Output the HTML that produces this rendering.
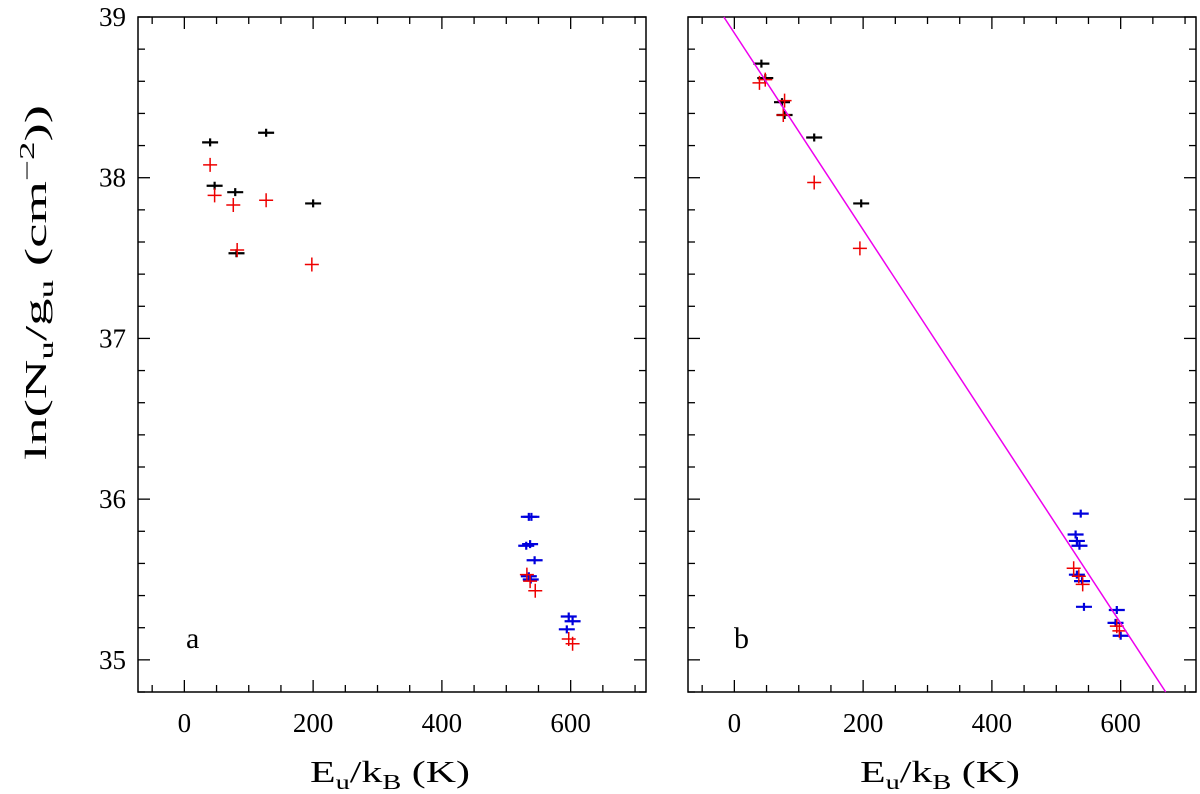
<!DOCTYPE html>
<html><head><meta charset="utf-8"><style>
body{margin:0;background:#fff;}
svg text{font-family:"Liberation Serif",serif;fill:#000;}
</style></head><body>
<svg id="chart" width="1200" height="789" viewBox="0 0 1200 789" xmlns="http://www.w3.org/2000/svg">
<g id="axes"></g><g id="marks"></g>
<text x="186" y="648" font-size="30">a</text>
<text x="734" y="648" font-size="30">b</text>
<text x="310" y="782" font-size="31" textLength="160" lengthAdjust="spacingAndGlyphs">E<tspan font-size="21" dy="7">u</tspan><tspan dy="-7">/k</tspan><tspan font-size="21" dy="7">B</tspan><tspan dy="-7"> (K)</tspan></text>
<text x="860" y="782" font-size="31" textLength="160" lengthAdjust="spacingAndGlyphs">E<tspan font-size="21" dy="7">u</tspan><tspan dy="-7">/k</tspan><tspan font-size="21" dy="7">B</tspan><tspan dy="-7"> (K)</tspan></text>
<text transform="translate(46,460) rotate(-90)" font-size="31" textLength="355" lengthAdjust="spacingAndGlyphs">ln(N<tspan font-size="21" dy="7">u</tspan><tspan dy="-7">/g</tspan><tspan font-size="21" dy="7">u</tspan><tspan dy="-7">  (cm</tspan><tspan font-size="21" dy="-12">−2</tspan><tspan dy="12">))</tspan></text>
</svg>
<script>
const xTicks=[0,200,400,600];
const yTicks=[35,36,37,38,39];
const aBlack=[[40,38.22],[47,37.95],[79,37.91],[81,37.53],[127,38.28],[200,37.84]];
const aRed=[[40,38.08],[47,37.89],[76,37.83],[82,37.55],[127,37.86],[198,37.46]];
const aBlue=[[535,35.89],[539,35.89],[531,35.71],[537,35.72],[544,35.62],[535,35.52],[538,35.50],[597,35.27],[603,35.24],[594,35.19]];
const aRedHi=[[532,35.53],[537,35.49],[545,35.43],[597,35.13],[603,35.10]];
const bBlack=[[42,38.71],[48,38.62],[74,38.47],[78,38.39],[124,38.25],[197,37.84]];
const bRed=[[39,38.59],[48,38.61],[78,38.48],[76,38.39],[124,37.97],[195,37.56]];
const bBlue=[[538,35.91],[530,35.78],[532,35.74],[536,35.71],[532,35.53],[540,35.49],[543,35.33],[594,35.31],[592,35.23],[600,35.15]];
const bRedHi=[[527,35.57],[535,35.52],[541,35.47],[594,35.21],[598,35.18]];
const fitIntercept=38.9, fitSlope=-0.00612;

const NS="http://www.w3.org/2000/svg";
const XMIN=-72,XMAX=717,YMIN=34.8,YMAX=39;
const TOP=17,BOT=692,W=508;
const panels=[{left:138,name:'a'},{left:688,name:'b'}];
function sx(p,v){return p.left+(v-XMIN)/(XMAX-XMIN)*W;}
function sy(v){return BOT-(v-YMIN)/(YMAX-YMIN)*(BOT-TOP);}
const axes=document.getElementById('axes'),marks=document.getElementById('marks');
function mk(tag,at,parent){const e=document.createElementNS(NS,tag);for(const k in at)e.setAttribute(k,at[k]);parent.appendChild(e);return e;}
panels.forEach(p=>{
  const r=mk('rect',{x:p.left,y:TOP,width:W,height:BOT-TOP,fill:'none',stroke:'#000','stroke-width':1.5},axes);
  
  
  for(let v=-50;v<=XMAX;v+=50){
    const L=(v%200===0)?12:7,x=sx(p,v);
    const t1=mk('line',{x1:x,x2:x,y1:BOT,y2:BOT-L,stroke:'#000','stroke-width':1.3},axes);
    
    
    const t2=mk('line',{x1:x,x2:x,y1:TOP,y2:TOP+L,stroke:'#000','stroke-width':1.3},axes);
    
    
  }
  xTicks.forEach(v=>{
    const t=mk('text',{x:sx(p,v),y:732,'font-size':27,'text-anchor':'middle'},axes);t.textContent=v;
    
    
  });
  for(let i=0;i<=21;i++){
    const v=YMIN+i*0.2;if(v>YMAX+1e-6)break;
    const maj=Math.abs(v-Math.round(v))<1e-6,L=maj?12:7,y=sy(v);
    const t1=mk('line',{x1:p.left,x2:p.left+L,y1:y,y2:y,stroke:'#000','stroke-width':1.3},axes);
    
    
    const t2=mk('line',{x1:p.left+W,x2:p.left+W-L,y1:y,y2:y,stroke:'#000','stroke-width':1.3},axes);
    
    
  }
  if(p.name==='a')yTicks.forEach(v=>{
    const t=mk('text',{x:126,y:sy(v)+9,'font-size':27,'text-anchor':'end'},axes);t.textContent=v;
    
    
  });
});
function plus(p,arr,col,hw,vh,sw,name){
  arr.forEach(d=>{
    const x=sx(p,d[0]),y=sy(d[1]);
    const g=mk('path',{d:`M${x-hw} ${y}H${x+hw}M${x} ${y-vh}V${y+vh}`,stroke:col,'stroke-width':sw,fill:'none'},marks);
    
    
  });
}
plus(panels[0],aBlack,'#000',8,4,2.2,'point-black');
plus(panels[0],aRed,'#e00',7,7,1.5,'point-red');
plus(panels[0],aBlue,'#00d',8,4,2.2,'point-blue');
plus(panels[0],aRedHi,'#e00',7,7,1.5,'point-red');
plus(panels[1],bBlack,'#000',8,4,2.2,'point-black');
plus(panels[1],bRed,'#e00',7,7,1.5,'point-red');
plus(panels[1],bBlue,'#00d',8,4,2.2,'point-blue');
plus(panels[1],bRedHi,'#e00',7,7,1.5,'point-red');
const pb=panels[1];
const xa=(YMAX-fitIntercept)/fitSlope, xb=(YMIN-fitIntercept)/fitSlope;
const x0=Math.max(XMIN,xa), x1=Math.min(XMAX,xb);
const fl=mk('line',{x1:sx(pb,x0),y1:sy(fitIntercept+fitSlope*x0),x2:sx(pb,x1),y2:sy(fitIntercept+fitSlope*x1),stroke:'#e0e','stroke-width':1.5},marks);


</script>
</body></html>
